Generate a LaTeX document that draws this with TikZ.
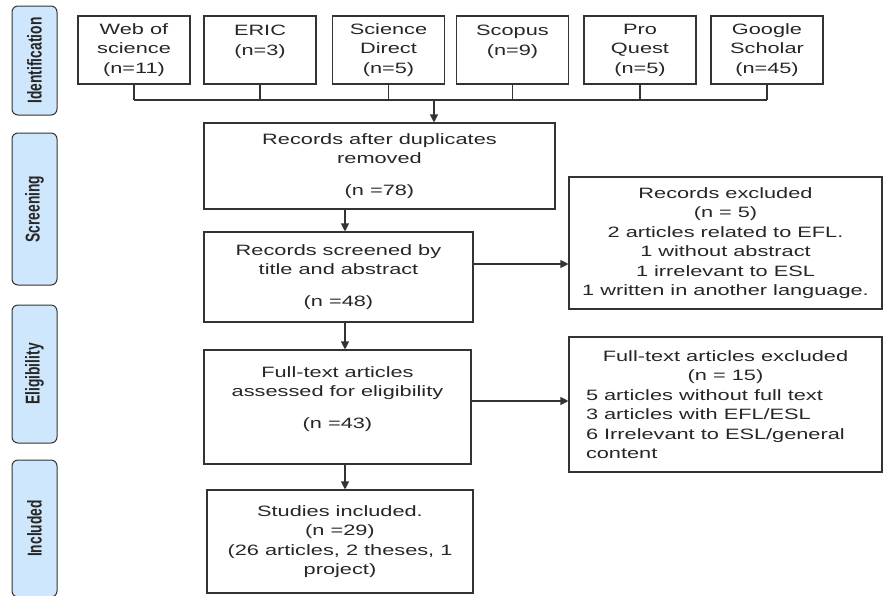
\documentclass[tikz,border=0pt]{standalone}
\usepackage{fontspec}
\setmainfont{Liberation Sans}[FakeStretch=1.45]
\newfontfamily\phasefont{Liberation Sans}[FakeStretch=0.69]
\usetikzlibrary{arrows.meta}
\definecolor{phaseblue}{RGB}{207,231,252}
\definecolor{edge}{RGB}{51,51,51}

\begin{document}
\begin{tikzpicture}[x=1pt,y=-1pt,
    every node/.style={font=\fontsize{15}{19.5}\selectfont, text=black!85},
    src/.style={draw=edge, line width=1.1pt, minimum width=112pt, minimum height=68pt, inner sep=0pt, align=center},
    stage/.style={draw=edge, line width=1.1pt, inner sep=0pt, align=center},
    phase/.style={draw=edge, line width=1pt, fill=phaseblue, rounded corners=6pt, rotate=90,
        minimum height=45pt, inner sep=0pt, font=\phasefont\bfseries\fontsize{20}{20}\selectfont},
    link/.style={draw=edge, line width=1.1pt},
    flow/.style={link, -{Triangle[length=8pt,width=8pt]}}]
    \useasboundingbox (0,0) rectangle (885,595);

    % phases down the left side
    \node[phase, minimum width=109pt] (ident) at (34.5,60.5) {Identification};
    \node[phase, minimum width=152pt] (screen) at (34.5,209) {Screening};
    \node[phase, minimum width=138pt] (elig) at (34.5,374) {Eligibility};
    \node[phase, minimum width=137pt] (incl) at (34.5,528.5) {Included};

    % databases
    \node[src] (wos) at (134,50) {Web of\\science\\(n=11)};
    \node[src] (eric) at (260,50) {ERIC\\(n=3)\\~};
    \node[src] (sd) at (388.5,50) {Science\\Direct\\(n=5)};
    \node[src] (scopus) at (512.5,50) {Scopus\\(n=9)\\~};
    \node[src] (pq) at (640,50) {Pro\\Quest\\(n=5)};
    \node[src] (gs) at (767,50) {Google\\Scholar\\(n=45)};

    \node[stage, minimum width=351pt, minimum height=86pt] (dup) at (379.5,166)
        {Records after duplicates\\removed\\[12pt](n =78)};
    \node[stage, minimum width=269pt, minimum height=90pt] (scr) at (338.5,277)
        {Records screened by\\title and abstract\\[12pt](n =48)};
    \node[stage, minimum width=267pt, minimum height=114pt] (ft) at (337.5,407)
        {Full-text articles\\assessed for eligibility\\[12pt](n =43)\\~};
    \node[stage, minimum width=266pt, minimum height=103pt] (incd) at (340,541.5)
        {Studies included.\\(n =29)\\(26 articles, 2 theses, 1\\project)};

    \node[stage, minimum width=313pt, minimum height=132pt] (exc) at (725.5,243)
        {Records excluded\\(n = 5)\\2 articles related to EFL.\\1 without abstract\\1 irrelevant to ESL\\1 written in another language.};
    \node[stage, minimum width=313pt, minimum height=135pt, align=left] (ftexc) at (725.5,404.5)
        {\makebox[279pt]{Full-text articles excluded}\\\makebox[279pt]{(n = 15)}\\5 articles without full text\\3 articles with EFL/ESL\\6 Irrelevant to ESL/general\\content};

    % connectors
    \coordinate (join) at (434,100);
    \coordinate (spine) at (345,0);
    \foreach \s in {wos,eric,sd,scopus,pq,gs}
        \draw[link] (\s.south) -- (\s.south |- join);
    \draw[link] (wos.south |- join) -- (gs.south |- join);
    \draw[flow] (join) -- (join |- dup.north);

    \draw[flow] (dup.south -| spine) -- (scr.north -| spine);
    \draw[flow] (scr.south -| spine) -- (ft.north -| spine);
    \draw[flow] (ft.south -| spine) -- (incd.north -| spine);
    \draw[flow] ([yshift=13pt]scr.east) -- ([yshift=13pt]scr.east -| exc.west);
    \draw[flow] ([yshift=6pt]ft.east) -- ([yshift=6pt]ft.east -| ftexc.west);
\end{tikzpicture}
\end{document}
